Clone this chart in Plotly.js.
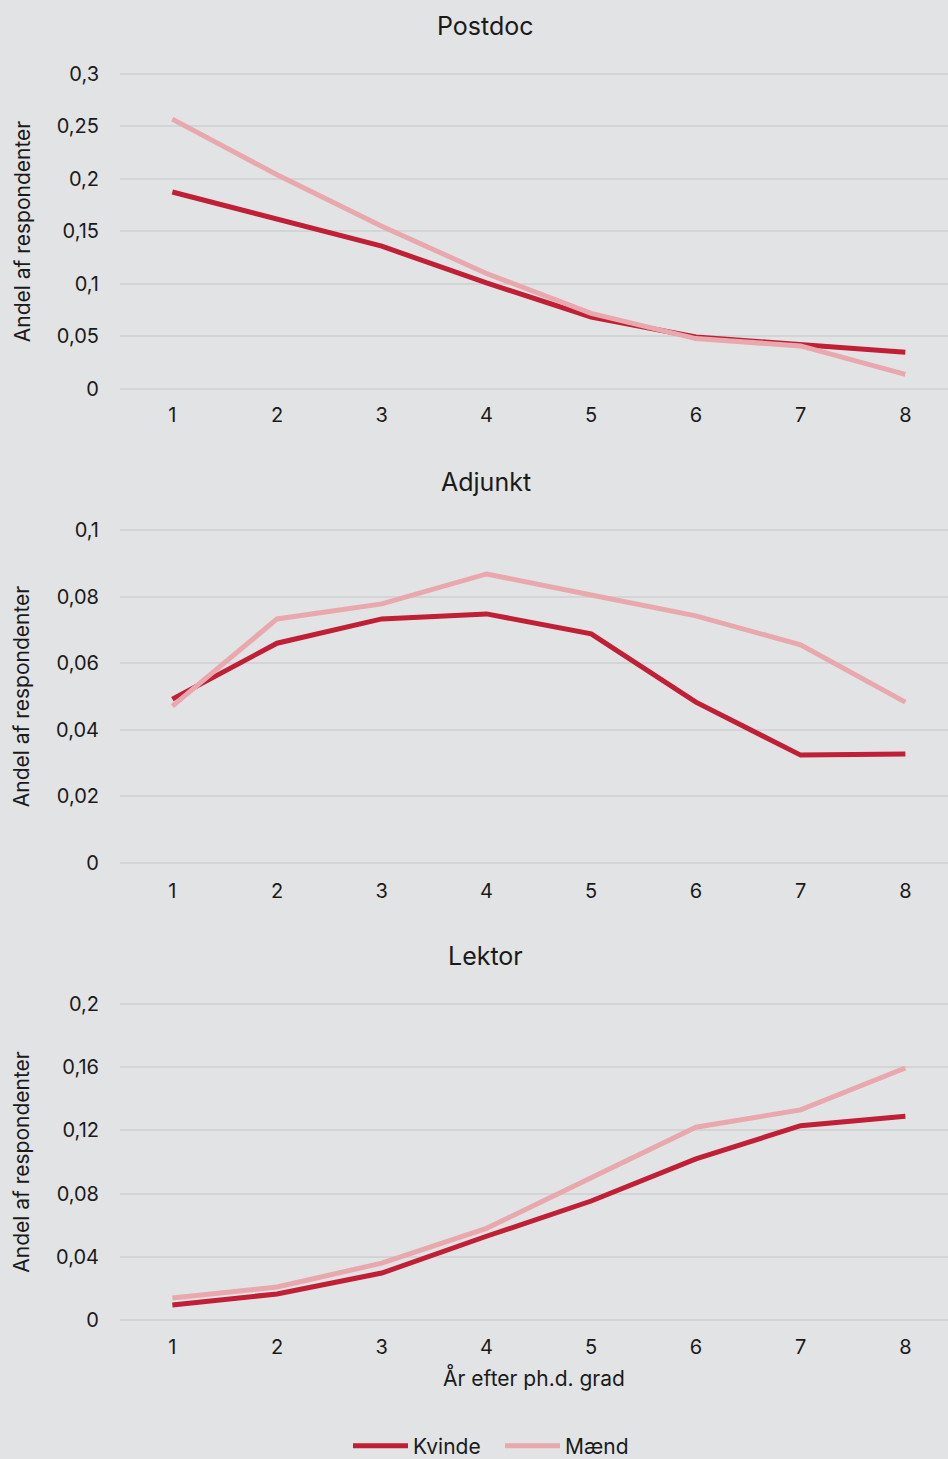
<!DOCTYPE html>
<html>
<head>
<meta charset="utf-8">
<script src="https://cdn.plot.ly/plotly-3.0.1.min.js"></script>
<style>
  html, body { margin: 0; padding: 0; background: #e2e3e5; }
  #chart { width: 948px; height: 1459px; }
</style>
</head>
<body>
<div id="chart"></div>
<script>
// ---- Data ----
const years = [1, 2, 3, 4, 5, 6, 7, 8];
const panelTitles = ["Postdoc", "Adjunkt", "Lektor"];
const seriesNames = ["Kvinde", "Mænd"];

const postdocKvinde = [0.1876, 0.162, 0.136, 0.101, 0.0686, 0.0495, 0.042, 0.035];
const postdocMaend  = [0.257, 0.204, 0.155, 0.110, 0.072, 0.048, 0.041, 0.014];

const adjunktKvinde = [0.0492, 0.0660, 0.0733, 0.0748, 0.0688, 0.0483, 0.0324, 0.0327];
const adjunktMaend  = [0.0471, 0.0733, 0.0778, 0.0868, 0.0805, 0.0742, 0.0655, 0.0483];

const lektorKvinde = [0.0095, 0.0165, 0.0297, 0.053, 0.0753, 0.102, 0.123, 0.129];
const lektorMaend  = [0.0139, 0.0209, 0.036, 0.058, 0.090, 0.122, 0.133, 0.1595];

const postdocTicks = [0, 0.05, 0.1, 0.15, 0.2, 0.25, 0.3];
const postdocTickText = ["0", "0,05", "0,1", "0,15", "0,2", "0,25", "0,3"];
const adjunktTicks = [0, 0.02, 0.04, 0.06, 0.08, 0.1];
const adjunktTickText = ["0", "0,02", "0,04", "0,06", "0,08", "0,1"];
const lektorTicks = [0, 0.04, 0.08, 0.12, 0.16, 0.2];
const lektorTickText = ["0", "0,04", "0,08", "0,12", "0,16", "0,2"];

const yTitle = "Andel af respondenter";
const xTitle = "År efter ph.d. grad";

// ---- Styles ----
const bg = "#e2e3e5";
const cKvinde = "#c01f35";
const cMaend = "#e9a8ad";
const gridC = "#d3d4d6";
const font = "Inter, 'Open Sans', sans-serif";
const textC = "#1a1a1a";

const panels = [
  {k: postdocKvinde, m: postdocMaend, tv: postdocTicks, tt: postdocTickText, range: [-0.005, 0.305], dom: [0.72978, 0.95288]},
  {k: adjunktKvinde, m: adjunktMaend, tv: adjunktTicks, tt: adjunktTickText, range: [-0.002, 0.102], dom: [0.40393, 0.64131]},
  {k: lektorKvinde, m: lektorMaend, tv: lektorTicks, tt: lektorTickText, range: [-0.004, 0.204], dom: [0.09094, 0.31619]}
];

const traces = [];
const layout = {
  width: 948, height: 1459,
  margin: {l: 0, r: 0, t: 0, b: 0, autoexpand: false},
  paper_bgcolor: bg, plot_bgcolor: bg,
  font: {family: font, size: 20, color: textC},
  showlegend: true,
  legend: {
    orientation: "h", x: 348 / 948, xanchor: "left", y: 0.0089, yanchor: "middle",
    font: {family: font, size: 21, color: textC}, bgcolor: "rgba(0,0,0,0)",
    itemwidth: 55, entrywidth: 82, entrywidthmode: "pixels", traceorder: "normal"
  },
  annotations: []
};

panels.forEach((p, i) => {
  const n = i === 0 ? "" : String(i + 1);
  const xa = "x" + n, ya = "y" + n;
  traces.push({
    x: years, y: p.k, type: "scatter", mode: "lines", name: seriesNames[0],
    line: {color: cKvinde, width: 5}, xaxis: xa, yaxis: ya,
    showlegend: i === 0, legendgroup: "k"
  });
  traces.push({
    x: years, y: p.m, type: "scatter", mode: "lines", name: seriesNames[1],
    line: {color: cMaend, width: 5}, xaxis: xa, yaxis: ya,
    showlegend: i === 0, legendgroup: "m"
  });
  layout["xaxis" + n] = {
    domain: [0.12658, 1], range: [0.5, 8.4076], anchor: ya,
    tickvals: years, ticktext: years.map(String),
    showgrid: false, zeroline: false, showline: false,
    ticks: "", ticklabelstandoff: 7, automargin: false,
    tickfont: {family: font, size: 20, color: textC},
    title: i === 2 ? {text: xTitle, font: {family: font, size: 21, color: textC}, standoff: 12} : {text: ""}
  };
  layout["yaxis" + n] = {
    domain: p.dom, range: p.range, anchor: xa,
    tickvals: p.tv, ticktext: p.tt,
    showgrid: true, gridcolor: gridC, gridwidth: 2,
    zeroline: false, showline: false,
    ticks: "", ticklabelstandoff: 20, automargin: false,
    tickfont: {family: font, size: 20, color: textC},
    title: {text: yTitle, font: {family: font, size: 21, color: textC}, standoff: 20}
  };
});

const titleY = [26, 482, 956];
panelTitles.forEach((t, i) => {
  layout.annotations.push({
    text: t, xref: "paper", yref: "paper",
    x: 486 / 948, y: 1 - titleY[i] / 1459, xanchor: "center", yanchor: "middle",
    showarrow: false, font: {family: font, size: 25, color: textC}
  });
});

Plotly.newPlot("chart", traces, layout, {displayModeBar: false, staticPlot: true});
</script>
</body>
</html>
